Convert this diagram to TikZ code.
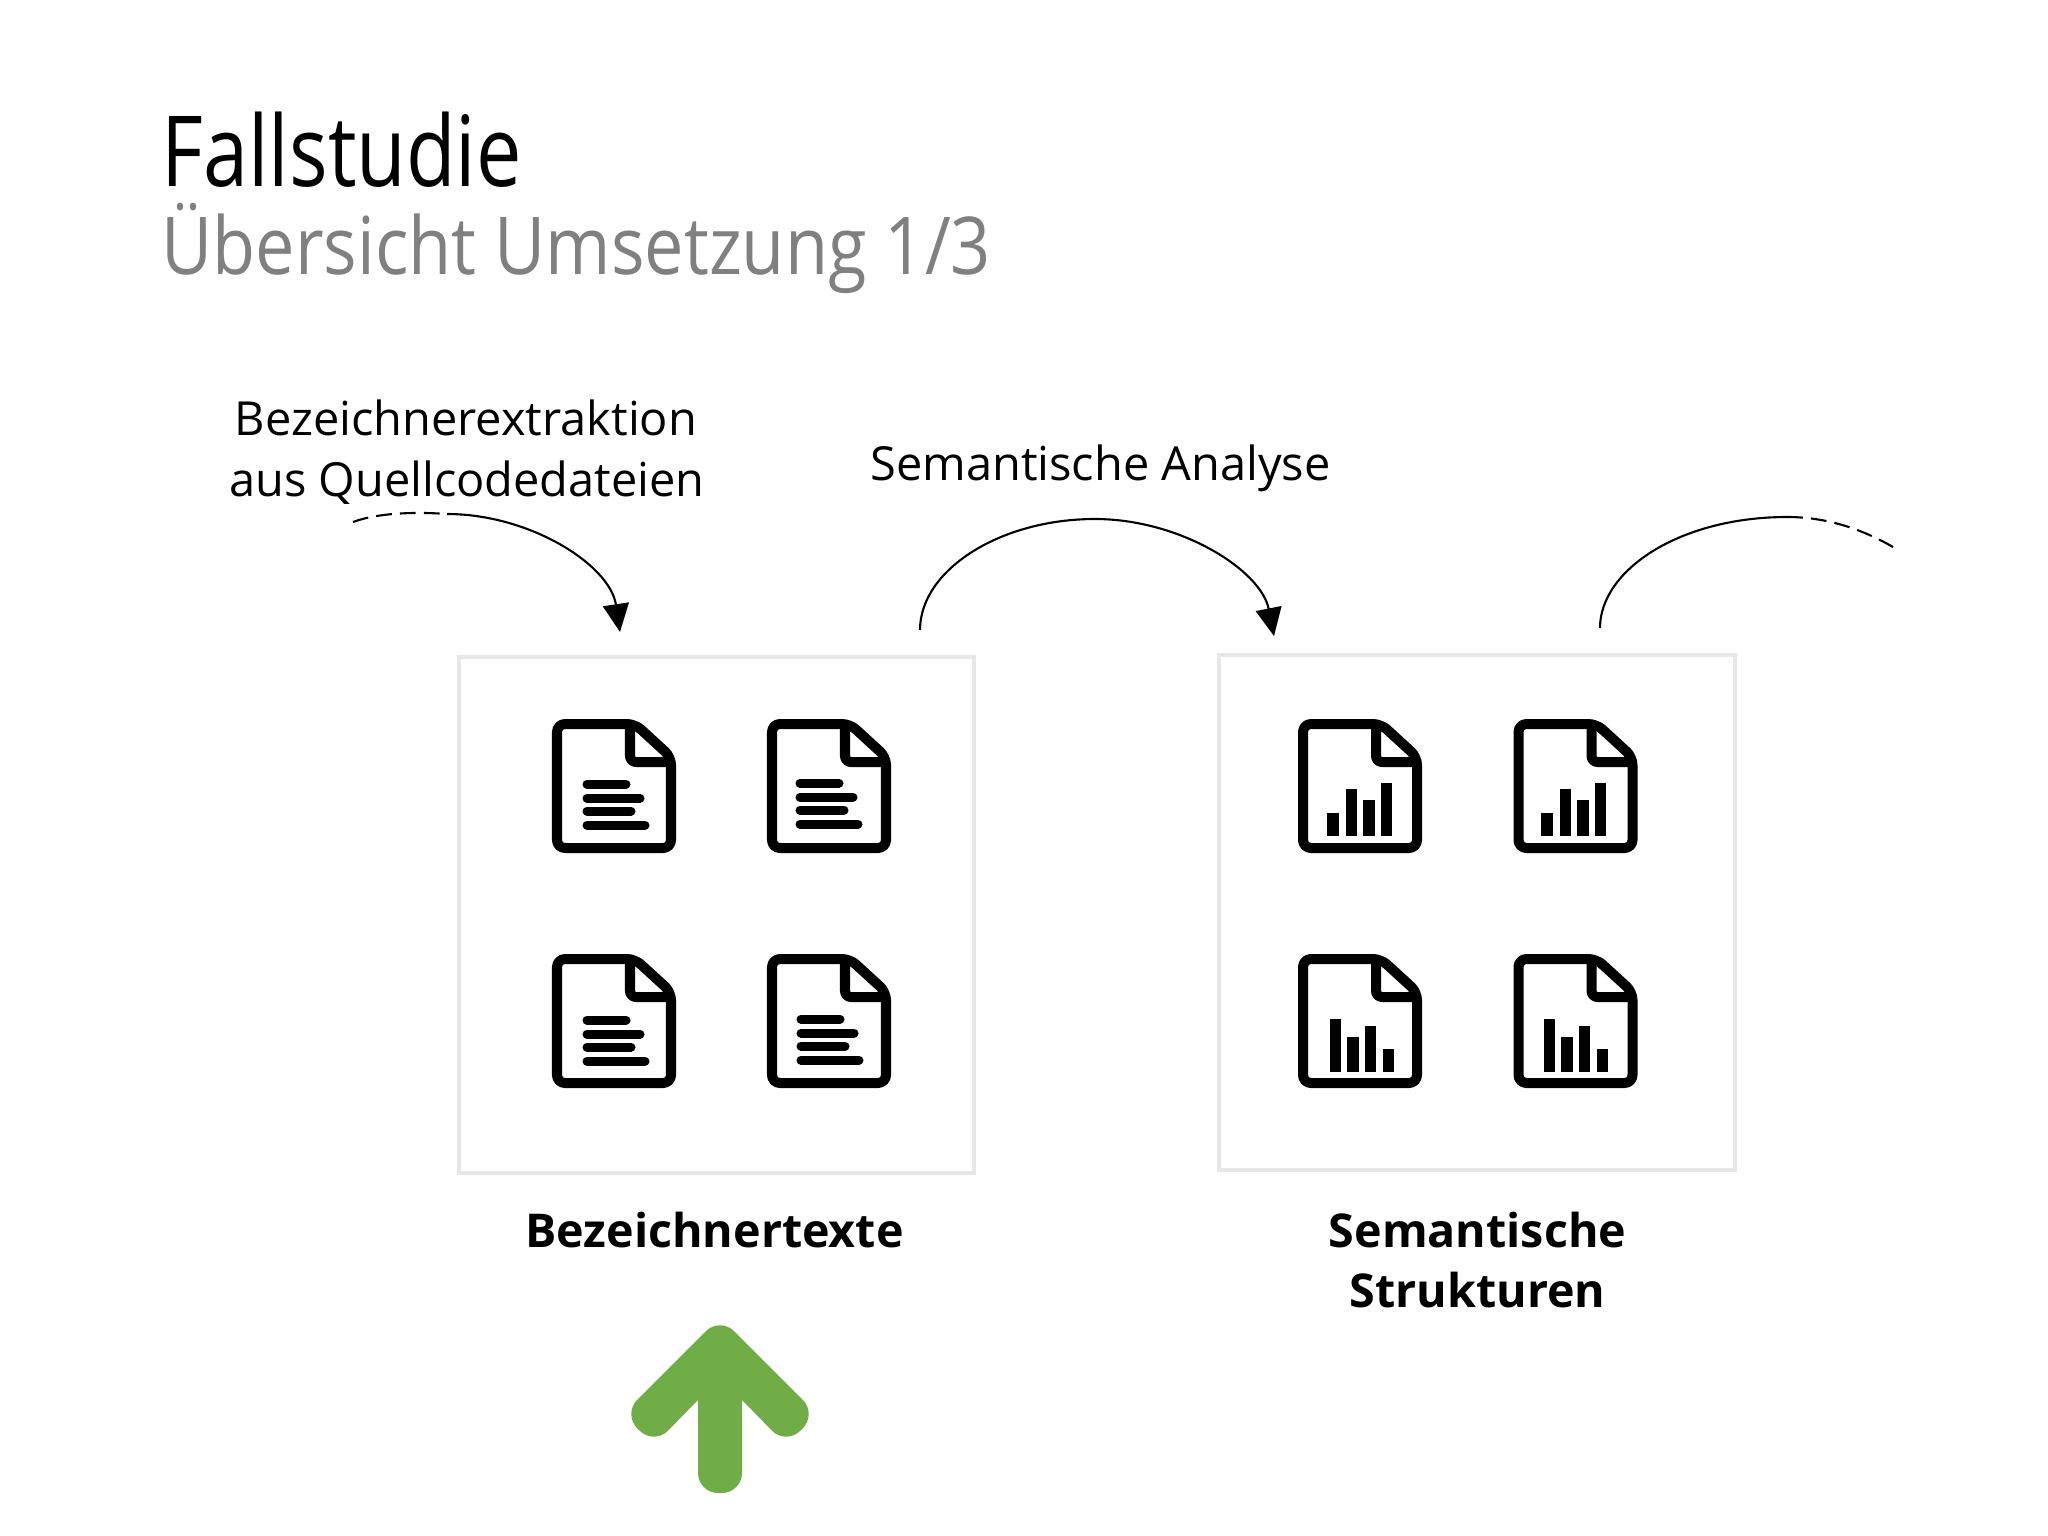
\documentclass[tikz,border=0pt]{standalone}
\usepackage{fontspec}
\setmainfont{Open Sans}
\newfontfamily\titlefont[FakeStretch=.825]{Open Sans}
\newfontfamily\subtitlefont[FakeStretch=.88]{Open Sans}
\definecolor{boxgray}{HTML}{E7E7E7}
\definecolor{subgray}{HTML}{808080}
\definecolor{arrowgreen}{HTML}{70AD47}
\usetikzlibrary{arrows.meta}
\tikzset{
	docframe/.pic={
		\draw[docline, rounded corners=.08cm] (5,5) -- (83,5) -- (119,38) -- (119,129) -- (5,129) -- cycle;
		\draw[docline, rounded corners=.06cm] (78,5) -- (78,43) -- (119,43);
	},
	textlines/.pic={
		\foreach \yl/\xl in {65/77, 79/91, 92/82, 106/96} {\draw[line width=2.56pt, line cap=round] (35,\yl) -- (\xl-3,\yl);}
	},
	risebars/.pic={
		\foreach \xa/\xb/\yt in {29/41/94, 48/59/70, 65/77/81, 83/94/64} {\fill (\xa,\yt) rectangle (\xb,117);}
	},
	fallbars/.pic={
		\foreach \xa/\xb/\yt in {32/43/65, 49/61/83, 67/78/72, 85/96/95} {\fill (\xa,\yt) rectangle (\xb,118);}
	}
}
\begin{document}
\begin{tikzpicture}[x=.01cm, y=-.01cm, docline/.style={line width=2.85pt, line join=round}, curve/.style={line width=.6pt}, curvehead/.style={-{Triangle[length=.28cm, width=.26cm]}}, curvedash/.style={dash pattern=on 4.5pt off 2.3pt}, cropbox/.style={draw=boxgray, line width=1.14pt, minimum width=5.15cm, minimum height=5.15cm}]
	\useasboundingbox (0,0) rectangle (2048,1536);
	\tikzstyle{every node} = [inner sep=0pt, font=\fontsize{13.35pt}{17pt}\selectfont]
	\node[anchor=base west, font=\titlefont\fontsize{27.9pt}{30pt}\selectfont] (title) at (161,186) {Fallstudie};
	\node[anchor=base west, font=\subtitlefont\fontsize{22.7pt}{30pt}\selectfont, text=subgray] (subtitle) at (161,274) {Übersicht Umsetzung 1/3};
	\node[anchor=base] (extractA) at (466,435) {Bezeichnerextraktion}; \node[anchor=base] (extractB) at (467,496) {aus Quellcodedateien};
	\node[anchor=base] (analysis) at (1100.5,480) {Semantische Analyse};
	\node[cropbox] (textbox) at (716.5,915) {}; \node[cropbox] (structbox) at (1477,912.5) {};
	\node[anchor=base, font=\bfseries\fontsize{13.25pt}{17pt}\selectfont] (textlabel) at (714.5,1247) {Bezeichnertexte};
	\node[anchor=base, font=\bfseries\fontsize{13.25pt}{17pt}\selectfont] (structlabelA) at (1477.5,1247) {Semantische}; \node[anchor=base, font=\bfseries\fontsize{13.25pt}{17pt}\selectfont] (structlabelB) at (1477.5,1307) {Strukturen};
	\foreach \ix/\iy/\dx/\dy in {552/719/0/0, 767/719/-2/-1, 552/954/0/1, 767/954/-1/0} {\pic at (\ix,\iy) {docframe}; \pic at (\ix+\dx,\iy+\dy) {textlines};}
	\foreach \ix/\dx in {1298/0, 1513.5/-2} {\pic at (\ix,719) {docframe}; \pic at (\ix+\dx,719) {risebars}; \pic at (\ix,954) {docframe}; \pic at (\ix+\dx,954) {fallbars};}
	\coordinate (inA) at (353,522); \coordinate (inB) at (447,514); \coordinate (inC) at (620,632);
	\coordinate (midA) at (920,630); \coordinate (midB) at (1095,519); \coordinate (midC) at (1274,636);
	\coordinate (outA) at (1600,628); \coordinate (outB) at (1787,517); \coordinate (outC) at (1893,547);
	\draw[curve, curvedash] (inA) .. controls (380,512) and (420,512) .. (inB);
	\draw[curve, curvehead] (inB) .. controls (530,514) and (610,565) .. (inC);
	\draw[curve, curvehead] (midA) .. controls (920,570) and (1000,519) .. (midB) .. controls (1180,519) and (1261,570) .. (midC);
	\draw[curve] (outA) .. controls (1600,570) and (1680,517) .. (outB);
	\draw[curve, curvedash] (outB) .. controls (1825,517) and (1860,528) .. (outC);
	\fill[arrowgreen, rounded corners=.2cm] (720,1317) -- (817,1414) -- (786,1445) [sharp corners] -- (742,1400) [rounded corners=.2cm] -- (742,1493) -- (698,1493) [sharp corners] -- (698,1400) [rounded corners=.2cm] -- (654,1445) -- (623,1414) -- cycle;
\end{tikzpicture}
\end{document}
